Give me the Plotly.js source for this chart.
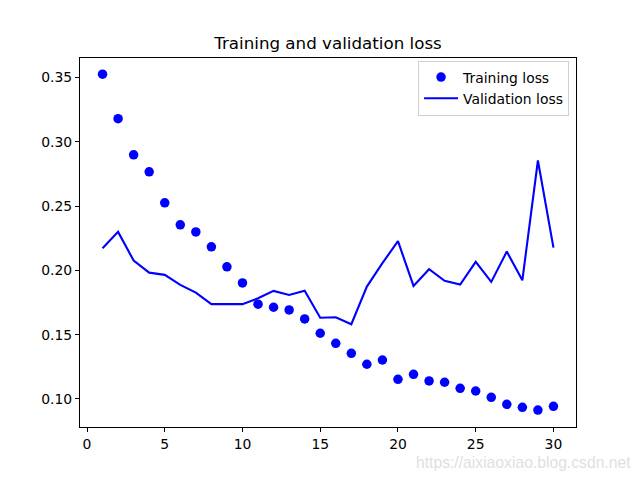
<!DOCTYPE html>
<html>
<head>
<meta charset="utf-8">
<script src="https://cdn.plot.ly/plotly-3.0.1.min.js"></script>
<style>html,body{margin:0;padding:0;background:#fff;}#chart{width:640px;height:480px;}</style>
</head>
<body>
<div id="chart"></div>
<script>
const epochs = [1,2,3,4,5,6,7,8,9,10,11,12,13,14,15,16,17,18,19,20,21,22,23,24,25,26,27,28,29,30];
const trainingLoss = [0.3525,0.3179,0.2898,0.2766,0.2525,0.2354,0.2299,0.2183,0.2027,0.1902,
  0.1737,0.1713,0.1692,0.1622,0.1511,0.1433,0.1355,0.1270,0.1303,0.1153,
  0.1192,0.1140,0.1130,0.1083,0.1062,0.1013,0.0958,0.0935,0.0914,0.0943];
const validationLoss = [0.2172,0.2299,0.2076,0.1982,0.1965,0.1887,0.1827,0.1737,0.1737,0.1737,
  0.1783,0.1840,0.1809,0.1842,0.1631,0.1635,0.1581,0.1874,0.2056,0.2227,
  0.1879,0.2009,0.1918,0.1889,0.2066,0.1910,0.2146,0.1923,0.2854,0.2177];
const xTicks = [0,5,10,15,20,25,30];
const yTicks = [0.10,0.15,0.20,0.25,0.30,0.35];

const font = {family: 'DejaVu Sans', size: 13.9, color: '#000'};
const traces = [
  {x: epochs, y: trainingLoss, type: 'scatter', mode: 'markers', name: 'Training loss',
   marker: {color: '#0000ff', size: 9.5}},
  {x: epochs, y: validationLoss, type: 'scatter', mode: 'lines', name: 'Validation loss',
   line: {color: '#0000ff', width: 2.1}}
];
const axisCommon = {showgrid: false, zeroline: false, showline: true, linecolor: '#000', linewidth: 1,
  mirror: true, ticks: 'outside', ticklen: 4, tickwidth: 1, tickcolor: '#000', tickfont: font};
const layout = {
  width: 640, height: 480,
  margin: {l: 80, r: 64, t: 58, b: 53, pad: 0},
  paper_bgcolor: '#fff', plot_bgcolor: '#fff',
  font: font,
  title: {text: 'Training and validation loss', font: {family: 'DejaVu Sans', size: 16.7, color: '#000'},
    x: 0.5, xref: 'paper', xanchor: 'center', y: 1 - 43/480, yref: 'container', yanchor: 'middle'},
  xaxis: Object.assign({}, axisCommon, {range: [-0.45, 31.45], tickvals: xTicks, ticktext: xTicks.map(String)}),
  yaxis: Object.assign({}, axisCommon, {range: [0.0782, 0.3651], tickvals: yTicks, ticktext: yTicks.map(v => v.toFixed(2))}),
  showlegend: true,
  legend: {x: 0.986, y: 0.993, xanchor: 'right', yanchor: 'top', bgcolor: '#fff', bordercolor: '#d0d0d0',
    borderwidth: 1, font: font, tracegroupgap: 0, itemwidth: 34},
  annotations: [{text: 'https://aixiaoxiao.blog.csdn.net', xref: 'paper', yref: 'paper',
    x: 1 + 57/496, y: -35/369, xanchor: 'right', yanchor: 'middle', showarrow: false,
    font: {family: 'Liberation Sans', size: 15.7, color: '#e0e0e0'}}]
};
Plotly.newPlot('chart', traces, layout, {displayModeBar: false, staticPlot: true});
</script>
</body>
</html>
